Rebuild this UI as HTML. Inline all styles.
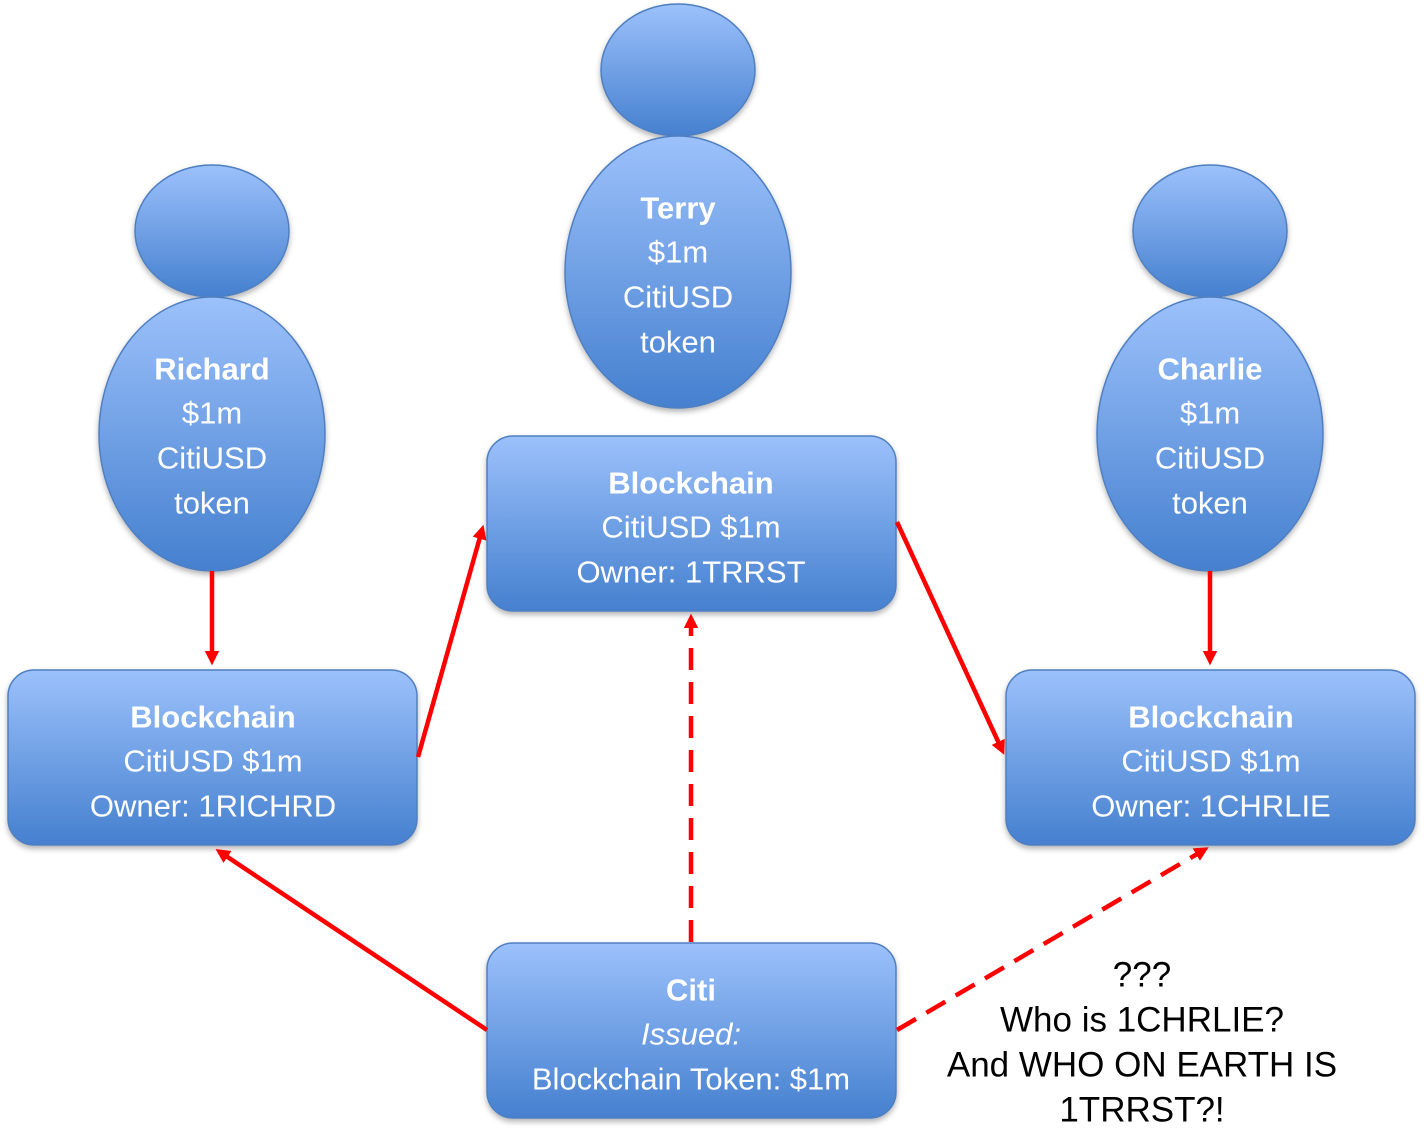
<!DOCTYPE html>
<html><head><meta charset="utf-8"><style>
html,body{margin:0;padding:0;background:#fff;}
svg{display:block;}
text{font-family:"Liberation Sans",sans-serif;fill:#fff;text-anchor:middle;dominant-baseline:central;font-size:31px;}
.b{font-weight:bold;}
.k{fill:#000;font-size:35px;}
</style></head><body>
<svg width="1424" height="1140" viewBox="0 0 1424 1140" xmlns="http://www.w3.org/2000/svg">
<defs>
<linearGradient id="g" x1="0" y1="0" x2="0" y2="1">
<stop offset="0" stop-color="#9cc1fb"/><stop offset="1" stop-color="#4580cf"/>
</linearGradient>
<filter id="s" x="-10%" y="-10%" width="120%" height="130%"><feDropShadow dx="0" dy="3" stdDeviation="3" flood-color="#000" flood-opacity="0.3"/></filter>
<marker id="a" markerWidth="4" markerHeight="4" refX="2" refY="1.6" orient="auto" markerUnits="strokeWidth"><path d="M0,0 L3.2,1.6 L0,3.2 z" fill="#fe0000"/></marker>
</defs>
<g fill="url(#g)" stroke="#4f7fc0" stroke-width="1.5" filter="url(#s)">
<ellipse cx="678" cy="70" rx="77" ry="66"/>
<ellipse cx="678" cy="272" rx="113" ry="136"/>
<ellipse cx="212" cy="231" rx="77" ry="66"/>
<ellipse cx="212" cy="434" rx="113" ry="137"/>
<ellipse cx="1210" cy="231" rx="77" ry="66"/>
<ellipse cx="1210" cy="434" rx="113" ry="137"/>
<rect x="487" y="436" width="409" height="175" rx="26"/>
<rect x="8" y="670" width="409" height="175" rx="26"/>
<rect x="1006" y="670" width="409" height="175" rx="26"/>
<rect x="487" y="943" width="409" height="175" rx="26"/>
</g>
<g stroke="#fe0000" stroke-width="4.5" fill="none" marker-end="url(#a)">
<line x1="212" y1="571" x2="212" y2="660"/>
<line x1="1210" y1="571" x2="1210" y2="660"/>
<line x1="418" y1="757" x2="482" y2="530"/>
<line x1="897" y1="522" x2="1002" y2="750"/>
<line x1="487" y1="1030" x2="220" y2="852"/>
<line x1="691" y1="942" x2="691" y2="619" stroke-dasharray="22,12"/>
<line x1="897" y1="1030" x2="1204" y2="850" stroke-dasharray="22,12"/>
</g>
<text class="b" x="678" y="208">Terry</text>
<text x="678" y="252">$1m</text>
<text x="678" y="297">CitiUSD</text>
<text x="678" y="342">token</text>
<text class="b" x="212" y="369">Richard</text>
<text x="212" y="413">$1m</text>
<text x="212" y="458">CitiUSD</text>
<text x="212" y="503">token</text>
<text class="b" x="1210" y="369">Charlie</text>
<text x="1210" y="413">$1m</text>
<text x="1210" y="458">CitiUSD</text>
<text x="1210" y="503">token</text>
<text class="b" x="691" y="483">Blockchain</text>
<text x="691" y="527">CitiUSD $1m</text>
<text x="691" y="572">Owner: 1TRRST</text>
<text class="b" x="213" y="717">Blockchain</text>
<text x="213" y="761">CitiUSD $1m</text>
<text x="213" y="806">Owner: 1RICHRD</text>
<text class="b" x="1211" y="717">Blockchain</text>
<text x="1211" y="761">CitiUSD $1m</text>
<text x="1211" y="806">Owner: 1CHRLIE</text>
<text class="b" x="691" y="990">Citi</text>
<text x="691" y="1034" font-style="italic">Issued:</text>
<text x="691" y="1079">Blockchain Token: $1m</text>
<text class="k" x="1142" y="975">???</text>
<text class="k" x="1142" y="1020">Who is 1CHRLIE?</text>
<text class="k" x="1142" y="1065">And WHO ON EARTH IS</text>
<text class="k" x="1142" y="1110">1TRRST?!</text>
</svg>
</body></html>
